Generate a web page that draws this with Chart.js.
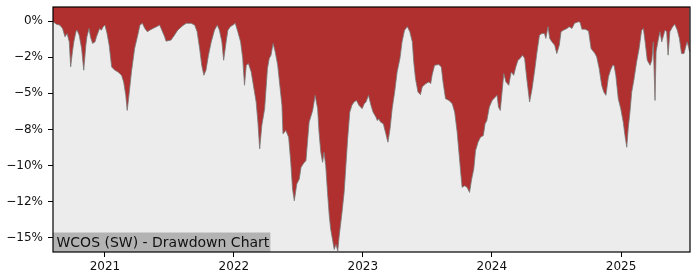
<!DOCTYPE html>
<html>
<head>
<meta charset="utf-8">
<script src="https://cdn.jsdelivr.net/npm/chart.js@4.4.1/dist/chart.umd.min.js"></script>
<style>
  body { margin: 0; background: #fff; }
  canvas { display: block; }
</style>
</head>
<body>
<canvas id="grafico" width="700" height="280"></canvas>
<script>
const titulo = "WCOS (SW) - Drawdown Chart";

const dates = [
  "2020-08-07", "2020-08-17", "2020-08-26", "2020-09-03", "2020-09-10", "2020-09-16", "2020-09-22", "2020-09-26",
  "2020-10-01", "2020-10-05", "2020-10-11", "2020-10-14", "2020-10-20", "2020-10-27", "2020-11-02", "2020-11-08",
  "2020-11-11", "2020-11-17", "2020-11-21", "2020-11-27", "2020-12-04", "2020-12-08", "2020-12-17", "2020-12-22",
  "2020-12-27", "2021-01-01", "2021-01-07", "2021-01-13", "2021-01-20", "2021-01-29", "2021-02-07", "2021-02-17",
  "2021-02-23", "2021-03-01", "2021-03-05", "2021-03-10", "2021-03-17", "2021-03-26", "2021-04-05", "2021-04-10",
  "2021-04-17", "2021-04-24", "2021-05-01", "2021-05-08", "2021-05-17", "2021-05-27", "2021-06-05", "2021-06-09",
  "2021-06-19", "2021-06-23", "2021-07-07", "2021-07-17", "2021-07-26", "2021-08-09", "2021-08-19", "2021-09-02",
  "2021-09-12", "2021-09-19", "2021-09-26", "2021-10-02", "2021-10-08", "2021-10-14", "2021-10-21", "2021-10-29",
  "2021-11-07", "2021-11-15", "2021-11-21", "2021-11-28", "2021-12-03", "2021-12-10", "2021-12-15", "2021-12-22",
  "2021-12-29", "2022-01-05", "2022-01-12", "2022-01-20", "2022-01-26", "2022-01-31", "2022-02-05", "2022-02-11",
  "2022-02-19", "2022-02-26", "2022-03-05", "2022-03-10", "2022-03-15", "2022-03-21", "2022-03-29", "2022-04-06",
  "2022-04-11", "2022-04-16", "2022-04-22", "2022-04-28", "2022-05-05", "2022-05-11", "2022-05-17", "2022-05-20",
  "2022-05-28", "2022-06-05", "2022-06-11", "2022-06-16", "2022-06-21", "2022-06-28", "2022-07-05", "2022-07-10",
  "2022-07-16", "2022-07-24", "2022-07-29", "2022-08-02", "2022-08-12", "2022-08-19", "2022-08-26", "2022-08-30",
  "2022-09-04", "2022-09-09", "2022-09-13", "2022-09-18", "2022-09-23", "2022-09-28", "2022-10-02", "2022-10-07",
  "2022-10-12", "2022-10-17", "2022-10-22", "2022-10-26", "2022-11-03", "2022-11-09", "2022-11-14", "2022-11-19",
  "2022-11-25", "2022-12-01", "2022-12-07", "2022-12-14", "2022-12-21", "2022-12-30", "2023-01-05", "2023-01-10",
  "2023-01-17", "2023-01-24", "2023-01-30", "2023-02-07", "2023-02-11", "2023-02-15", "2023-02-20", "2023-02-28",
  "2023-03-06", "2023-03-13", "2023-03-19", "2023-03-25", "2023-04-01", "2023-04-08", "2023-04-16", "2023-04-22",
  "2023-04-29", "2023-05-07", "2023-05-14", "2023-05-21", "2023-05-25", "2023-05-30", "2023-06-06", "2023-06-13",
  "2023-06-18", "2023-06-28", "2023-07-07", "2023-07-12", "2023-07-16", "2023-07-23", "2023-08-04", "2023-08-11",
  "2023-08-16", "2023-08-23", "2023-09-02", "2023-09-11", "2023-09-18", "2023-09-25", "2023-09-30", "2023-10-05",
  "2023-10-09", "2023-10-16", "2023-10-23", "2023-10-30", "2023-11-05", "2023-11-11", "2023-11-16", "2023-11-23",
  "2023-11-30", "2023-12-08", "2023-12-13", "2023-12-18", "2023-12-25", "2024-01-02", "2024-01-11", "2024-01-16",
  "2024-01-20", "2024-01-25", "2024-01-30", "2024-02-04", "2024-02-10", "2024-02-18", "2024-02-25", "2024-03-03",
  "2024-03-09", "2024-03-15", "2024-03-21", "2024-03-28", "2024-04-03", "2024-04-09", "2024-04-17", "2024-04-24",
  "2024-05-02", "2024-05-08", "2024-05-15", "2024-05-22", "2024-05-29", "2024-06-02", "2024-06-08", "2024-06-13",
  "2024-06-19", "2024-06-27", "2024-07-03", "2024-07-10", "2024-07-15", "2024-07-22", "2024-08-01", "2024-08-07",
  "2024-08-15", "2024-08-22", "2024-09-02", "2024-09-07", "2024-09-12", "2024-09-21", "2024-10-01", "2024-10-08",
  "2024-10-19", "2024-10-24", "2024-10-31", "2024-11-07", "2024-11-13", "2024-11-19", "2024-11-26", "2024-12-02",
  "2024-12-08", "2024-12-12", "2024-12-17", "2024-12-24", "2024-12-31", "2025-01-07", "2025-01-12", "2025-01-17",
  "2025-01-21", "2025-01-26", "2025-01-31", "2025-02-06", "2025-02-14", "2025-02-21", "2025-02-28", "2025-03-05",
  "2025-03-10", "2025-03-16", "2025-03-24", "2025-03-29", "2025-04-02", "2025-04-07", "2025-04-10", "2025-04-16",
  "2025-04-21", "2025-04-26", "2025-04-30", "2025-05-05", "2025-05-10", "2025-05-14", "2025-05-19", "2025-05-27",
  "2025-06-02", "2025-06-09", "2025-06-15", "2025-06-21", "2025-06-28", "2025-07-04", "2025-07-07", "2025-07-14"
];

// drawdown em %
const drawdown = [
  -0.05, -0.23, -0.28, -0.51, -1.09, -0.86, -1.44, -3.17,
  -2.13, -1.44, -0.74, -0.63, -0.97, -1.90, -3.40, -1.67,
  -1.09, -0.51, -1.09, -1.55, -1.44, -1.09, -0.51, -0.63,
  -0.39, -0.28, -0.86, -1.67, -3.17, -3.40, -3.52, -3.75,
  -4.21, -5.14, -6.18, -5.14, -3.52, -1.90, -0.86, -0.28,
  -0.16, -0.51, -0.74, -0.63, -0.51, -0.39, -0.28, -0.51,
  -1.09, -1.39, -1.32, -0.97, -0.63, -0.32, -0.16, -0.16,
  -0.28, -0.74, -1.90, -3.06, -3.75, -3.40, -2.36, -1.44,
  -0.63, -0.28, -0.63, -1.44, -2.71, -1.44, -0.63, -0.39,
  -0.28, -0.16, -0.74, -1.44, -2.59, -4.44, -3.06, -2.94,
  -3.52, -4.56, -5.60, -7.00, -8.84, -7.22, -6.06, -3.29,
  -2.59, -2.36, -1.55, -2.13, -3.06, -4.44, -5.83, -7.80,
  -7.57, -8.03, -9.77, -11.62, -12.43, -11.27, -10.93, -10.12,
  -9.88, -9.65, -8.15, -6.99, -6.18, -5.14, -6.06, -7.69,
  -9.07, -9.77, -9.07, -10.00, -11.85, -13.47, -14.40, -15.09,
  -15.79, -15.44, -15.90, -14.86, -13.24, -11.85, -10.00, -8.15,
  -6.30, -5.83, -5.60, -5.49, -5.83, -6.06, -5.72, -5.60,
  -5.14, -5.83, -6.30, -6.64, -6.88, -6.76, -6.99, -7.11,
  -7.69, -8.38, -7.45, -6.06, -4.91, -3.52, -2.59, -1.44,
  -0.63, -0.39, -0.74, -1.44, -2.82, -3.98, -4.91, -5.09,
  -4.56, -4.33, -4.21, -4.33, -3.75, -3.06, -3.01, -3.17,
  -4.21, -5.37, -5.49, -5.72, -6.30, -7.69, -9.07, -10.46,
  -11.50, -11.39, -11.50, -11.85, -10.93, -10.23, -8.96, -8.38,
  -8.03, -7.92, -7.11, -6.88, -5.95, -5.49, -5.25, -5.14,
  -5.95, -6.18, -4.91, -3.63, -4.21, -4.44, -3.52, -3.75,
  -3.17, -2.71, -2.59, -2.36, -2.59, -3.98, -5.60, -4.68,
  -3.29, -2.13, -0.97, -0.86, -0.86, -1.20, -0.39, -1.20,
  -1.44, -1.67, -2.25, -1.67, -0.74, -0.63, -0.51, -0.39,
  -0.51, -0.16, -0.05, -0.09, -0.56, -0.56, -0.69, -1.90,
  -2.25, -2.48, -3.29, -4.44, -4.91, -5.14, -3.87, -3.40,
  -3.06, -3.06, -3.75, -5.37, -6.06, -6.99, -7.92, -8.73,
  -7.45, -6.30, -4.91, -4.10, -2.82, -1.90, -0.63, -0.51,
  -1.44, -2.71, -3.06, -2.71, -1.44, -5.49, -2.13, -1.32,
  -0.74, -1.44, -1.09, -0.63, -0.74, -2.36, -0.74, -0.39,
  -0.23, -0.63, -1.20, -2.25, -2.25, -1.67, -1.44, -2.13
];

const yTicks = [0, -2.5, -5, -7.5, -10, -12.5, -15];
const yTickLabels = ["0%", "\u22122%", "\u22125%", "\u22128%", "\u221210%", "\u221212%", "\u221215%"];
const xTickYears = [2021, 2022, 2023, 2024, 2025];
const xInicio = "2020-08-07";
const xFim = "2025-07-15";

const pontos = dates.map((d, i) => ({ x: Date.parse(d), y: drawdown[i] }));
const fonte = "DejaVu Sans";

const moldura = {
  id: "moldura",
  beforeDraw(chart) {
    const a = chart.chartArea;
    const ctx = chart.ctx;
    ctx.save();
    ctx.fillStyle = "#ececec";
    ctx.fillRect(a.left, a.top, a.right - a.left, a.bottom - a.top);
    ctx.restore();
  },
  afterDraw(chart) {
    const a = chart.chartArea;
    const ctx = chart.ctx;
    ctx.save();
    // caixa do titulo
    ctx.font = "14px '" + fonte + "'";
    const w = ctx.measureText(titulo).width;
    ctx.fillStyle = "#b3b3b3";
    ctx.fillRect(a.left, a.bottom - 19.5, w + 4.5, 19.5);
    ctx.fillStyle = "#111";
    ctx.textBaseline = "alphabetic";
    ctx.fillText(titulo, a.left + 3.5, a.bottom - 4.8);
    ctx.strokeStyle = "#000";
    ctx.lineWidth = 1.2;
    ctx.strokeRect(a.left, a.top, a.right - a.left, a.bottom - a.top);
    ctx.restore();
  }
};

new Chart(document.getElementById("grafico"), {
  type: "line",
  data: {
    datasets: [{
      data: pontos,
      fill: "end",
      backgroundColor: "#b02f2f",
      borderColor: "rgba(120,120,120,0.8)",
      borderWidth: 1,
      pointRadius: 0,
      tension: 0
    }]
  },
  options: {
    responsive: false,
    animation: false,
    devicePixelRatio: 1,
    layout: { padding: { left: 0, right: 10, top: 7, bottom: 0 } },
    plugins: { legend: { display: false }, tooltip: { enabled: false } },
    scales: {
      x: {
        type: "linear",
        min: Date.parse(xInicio),
        max: Date.parse(xFim),
        afterBuildTicks: s => { s.ticks = xTickYears.map(y => ({ value: Date.parse(y + "-01-01") })); },
        afterFit: s => { s.height = 28; s.paddingLeft = 0; s.paddingRight = 0; },
        border: { display: false },
        grid: { drawOnChartArea: false, color: "#000", tickLength: 5, lineWidth: 1 },
        ticks: {
          color: "#111",
          font: { family: fonte, size: 12 },
          padding: 3,
          maxRotation: 0,
          callback: (v, i) => xTickYears[i]
        }
      },
      y: {
        min: -15.97,
        max: 0.97,
        afterBuildTicks: s => { s.ticks = yTicks.map(v => ({ value: v })); },
        afterFit: s => { s.width = 53; s.paddingTop = 0; s.paddingBottom = 0; },
        border: { display: false },
        grid: { drawOnChartArea: false, color: "#000", tickLength: 5, lineWidth: 1 },
        ticks: {
          color: "#111",
          font: { family: fonte, size: 12 },
          padding: 5,
          callback: (v, i) => yTickLabels[i]
        }
      }
    }
  },
  plugins: [moldura]
});
</script>
</body>
</html>
